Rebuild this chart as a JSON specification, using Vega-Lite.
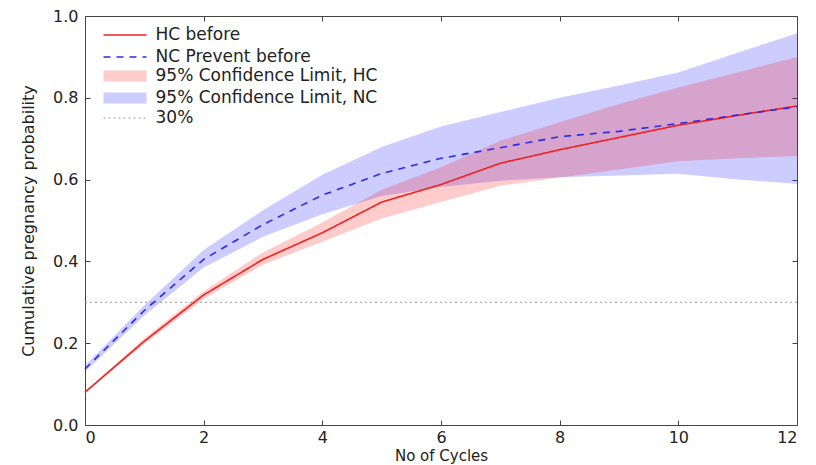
{
  "$schema": "https://vega.github.io/schema/vega-lite/v6.json",
  "width": 712,
  "height": 409,
  "autosize": {"type": "none"},
  "padding": {"left": 85, "top": 16, "right": 19, "bottom": 40},
  "background": "white",
  "config": {
    "view": {"stroke": "#444", "strokeWidth": 1},
    "font": "DejaVu Sans",
    "axis": {
      "labelFont": "DejaVu Sans",
      "titleFont": "DejaVu Sans",
      "labelColor": "#222",
      "titleColor": "#222",
      "tickColor": "#444",
      "domain": false,
      "grid": false,
      "tickSize": -5,
      "labelFontSize": 16,
      "titleFontSize": 16,
      "titleFontWeight": "normal"
    },
    "legend": {
      "orient": "none",
      "padding": 0,
      "title": null,
      "labelFont": "DejaVu Sans",
      "labelFontSize": 17,
      "labelColor": "#222",
      "labelLimit": 500,
      "symbolSize": 100,
      "symbolOffset": 16.5,
      "labelOffset": 22,
      "rowPadding": 4
    }
  },
  "datasets": {
    "hc": [
      {"cycle": 0, "line": "HC before", "band": "95% Confidence Limit, HC", "p": 0.08, "lo": 0.078, "hi": 0.082},
      {"cycle": 1, "line": "HC before", "band": "95% Confidence Limit, HC", "p": 0.205, "lo": 0.198, "hi": 0.212},
      {"cycle": 2, "line": "HC before", "band": "95% Confidence Limit, HC", "p": 0.318, "lo": 0.308, "hi": 0.327},
      {"cycle": 3, "line": "HC before", "band": "95% Confidence Limit, HC", "p": 0.405, "lo": 0.392, "hi": 0.422},
      {"cycle": 4, "line": "HC before", "band": "95% Confidence Limit, HC", "p": 0.47, "lo": 0.448, "hi": 0.495},
      {"cycle": 5, "line": "HC before", "band": "95% Confidence Limit, HC", "p": 0.545, "lo": 0.505, "hi": 0.575},
      {"cycle": 6, "line": "HC before", "band": "95% Confidence Limit, HC", "p": 0.588, "lo": 0.545, "hi": 0.63},
      {"cycle": 7, "line": "HC before", "band": "95% Confidence Limit, HC", "p": 0.64, "lo": 0.585, "hi": 0.695},
      {"cycle": 8, "line": "HC before", "band": "95% Confidence Limit, HC", "p": 0.673, "lo": 0.605, "hi": 0.74},
      {"cycle": 9, "line": "HC before", "band": "95% Confidence Limit, HC", "p": 0.703, "lo": 0.625, "hi": 0.785},
      {"cycle": 10, "line": "HC before", "band": "95% Confidence Limit, HC", "p": 0.733, "lo": 0.645, "hi": 0.825},
      {"cycle": 11, "line": "HC before", "band": "95% Confidence Limit, HC", "p": 0.757, "lo": 0.652, "hi": 0.862},
      {"cycle": 12, "line": "HC before", "band": "95% Confidence Limit, HC", "p": 0.78, "lo": 0.658, "hi": 0.9}
    ],
    "nc": [
      {"cycle": 0, "line": "NC Prevent before", "band": "95% Confidence Limit, NC", "p": 0.137, "lo": 0.13, "hi": 0.145},
      {"cycle": 1, "line": "NC Prevent before", "band": "95% Confidence Limit, NC", "p": 0.28, "lo": 0.268, "hi": 0.293},
      {"cycle": 2, "line": "NC Prevent before", "band": "95% Confidence Limit, NC", "p": 0.405, "lo": 0.385, "hi": 0.428},
      {"cycle": 3, "line": "NC Prevent before", "band": "95% Confidence Limit, NC", "p": 0.49, "lo": 0.46, "hi": 0.525},
      {"cycle": 4, "line": "NC Prevent before", "band": "95% Confidence Limit, NC", "p": 0.562, "lo": 0.515, "hi": 0.612},
      {"cycle": 5, "line": "NC Prevent before", "band": "95% Confidence Limit, NC", "p": 0.615, "lo": 0.56, "hi": 0.68},
      {"cycle": 6, "line": "NC Prevent before", "band": "95% Confidence Limit, NC", "p": 0.652, "lo": 0.582, "hi": 0.73},
      {"cycle": 7, "line": "NC Prevent before", "band": "95% Confidence Limit, NC", "p": 0.678, "lo": 0.597, "hi": 0.765},
      {"cycle": 8, "line": "NC Prevent before", "band": "95% Confidence Limit, NC", "p": 0.705, "lo": 0.606, "hi": 0.8},
      {"cycle": 9, "line": "NC Prevent before", "band": "95% Confidence Limit, NC", "p": 0.718, "lo": 0.61, "hi": 0.83},
      {"cycle": 10, "line": "NC Prevent before", "band": "95% Confidence Limit, NC", "p": 0.737, "lo": 0.614, "hi": 0.862},
      {"cycle": 11, "line": "NC Prevent before", "band": "95% Confidence Limit, NC", "p": 0.758, "lo": 0.6, "hi": 0.91},
      {"cycle": 12, "line": "NC Prevent before", "band": "95% Confidence Limit, NC", "p": 0.778, "lo": 0.59, "hi": 0.958}
    ]
  },
  "resolve": {"axis": {"x": "independent", "y": "independent"}},
  "layer": [
    {
      "data": {"name": "nc"},
      "mark": {"type": "area", "fillOpacity": 0.2},
      "encoding": {
        "x": {
          "field": "cycle", "type": "quantitative",
          "scale": {"domain": [0, 12], "nice": false},
          "axis": {"orient": "bottom", "values": [0, 2, 4, 6, 8, 10, 12], "format": "d", "title": "No of Cycles", "labelPadding": 9, "titlePadding": 3, "titleFontSize": 15}
        },
        "y": {
          "field": "lo", "type": "quantitative",
          "scale": {"domain": [0, 1], "nice": false},
          "axis": {"orient": "left", "values": [0, 0.2, 0.4, 0.6, 0.8, 1.0], "format": ".1f", "title": "Cumulative pregnancy probability", "labelPadding": 12, "titlePadding": 16}
        },
        "y2": {"field": "hi"},
        "fill": {
          "field": "band", "type": "nominal",
          "scale": {"domain": ["95% Confidence Limit, HC", "95% Confidence Limit, NC"], "range": ["#ff0000", "#0000ff"]},
          "legend": {
            "legendX": 15, "legendY": 51.5,
            "symbolType": "M-4.3,-1.1H4.3V1.1H-4.3Z",
            "symbolOpacity": 0.2,
            "symbolStrokeWidth": 0
          }
        }
      }
    },
    {
      "data": {"name": "hc"},
      "mark": {"type": "area", "fillOpacity": 0.2},
      "encoding": {
        "x": {
          "field": "cycle", "type": "quantitative",
          "axis": {"orient": "top", "values": [0, 2, 4, 6, 8, 10, 12], "labels": false, "title": null, "ticks": true, "tickSize": -5, "tickColor": "#444"}
        },
        "y": {
          "field": "lo", "type": "quantitative",
          "axis": {"orient": "right", "values": [0, 0.2, 0.4, 0.6, 0.8, 1.0], "labels": false, "title": null}
        },
        "y2": {"field": "hi"},
        "fill": {"field": "band", "type": "nominal"}
      }
    },
    {
      "data": {"name": "hc"},
      "mark": {"type": "line", "strokeWidth": 1.6},
      "encoding": {
        "x": {"field": "cycle", "type": "quantitative", "axis": null},
        "y": {"field": "p", "type": "quantitative", "axis": null},
        "color": {
          "field": "line", "type": "nominal",
          "scale": {"domain": ["HC before", "NC Prevent before"], "range": ["#ee2222", "#2a2aee"]},
          "legend": {
            "legendX": 15, "legendY": 10.5,
            "symbolType": "M-4.3,0H4.3",
            "symbolStrokeWidth": 1.6
          }
        },
        "strokeDash": {
          "field": "line", "type": "nominal",
          "scale": {"domain": ["HC before", "NC Prevent before"], "range": [[1, 0], [7, 6]]},
          "legend": {
            "legendX": 15, "legendY": 10.5,
            "symbolType": "M-4.3,0H4.3",
            "symbolStrokeWidth": 1.6
          }
        }
      }
    },
    {
      "data": {"name": "nc"},
      "mark": {"type": "line", "strokeWidth": 1.6},
      "encoding": {
        "x": {"field": "cycle", "type": "quantitative", "axis": null},
        "y": {"field": "p", "type": "quantitative", "axis": null},
        "color": {"field": "line", "type": "nominal"},
        "strokeDash": {"field": "line", "type": "nominal"}
      }
    },
    {
      "data": {"values": [{"s": "30%", "v": 0.3}]},
      "mark": {"type": "rule", "stroke": "#999999", "strokeDash": [2, 3], "strokeWidth": 1},
      "encoding": {
        "y": {"field": "v", "type": "quantitative", "axis": null},
        "opacity": {
          "field": "s", "type": "nominal",
          "scale": {"domain": ["30%"], "range": [1]},
          "legend": {
            "legendX": 15, "legendY": 93.5,
            "symbolType": "M-4.3,0H4.3",
            "symbolStrokeColor": "#999999",
            "symbolStrokeWidth": 1,
            "symbolDash": [2, 3]
          }
        }
      }
    }
  ]
}
